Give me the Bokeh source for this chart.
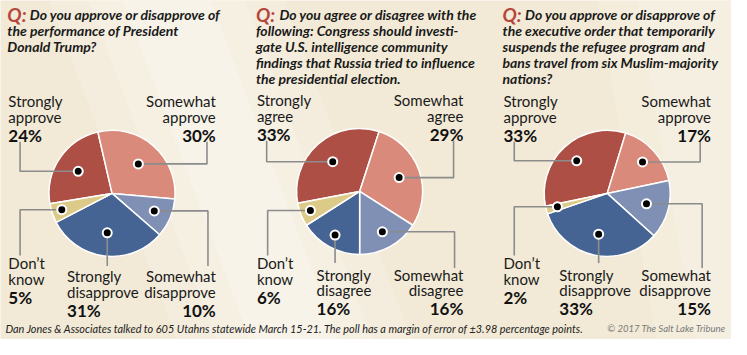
import math
from bokeh.plotting import figure
from bokeh.models import Range1d, ColumnDataSource
from bokeh.core.properties import value
from bokeh.embed import file_html
from bokeh.resources import INLINE

# ---------------- data ----------------
categories = ["Strongly approve", "Somewhat approve", "Somewhat disapprove",
              "Strongly disapprove", "Don't know"]
q1_values = [24, 30, 10, 31, 5]
q2_values = [33, 29, 16, 16, 6]
q3_values = [33, 17, 15, 33, 2]

q1_names = [["Strongly", "approve"], ["Somewhat", "approve"], ["Somewhat", "disapprove"],
            ["Strongly", "disapprove"], ["Don\u2019t", "know"]]
q2_names = [["Strongly", "agree"], ["Somewhat", "agree"], ["Somewhat", "disagree"],
            ["Strongly", "disagree"], ["Don\u2019t", "know"]]
q3_names = [["Strongly", "approve"], ["Somewhat", "approve"], ["Somewhat", "disapprove"],
            ["Strongly", "disapprove"], ["Don\u2019t", "know"]]

q1_text = ["Do you approve or disapprove of", "the performance of President", "Donald Trump?"]
q2_text = ["Do you agree or disagree with the", "following: Congress should investi-",
           "gate U.S. intelligence community", "findings that Russia tried to influence",
           "the presidential election."]
q3_text = ["Do you approve or disapprove of", "the executive order that temporarily",
           "suspends the refugee program and", "bans travel from six Muslim-majority",
           "nations?"]

footer_text = ("Dan Jones & Associates talked to 605 Utahns statewide March 15-21. "
               "The poll has a margin of error of \u00b13.98 percentage points.")
credit_text = "\u00a9 2017 The Salt Lake Tribune"

colors = ["#ad4f45", "#d98a7b", "#7f90b4", "#456493", "#dccb88"]

# ---------------- layout (pixel coords, y down) ----------------
W, H = 747, 355
def Y(py):
    return H - py

TITLE_FONT = "Lato"
REG = "Lato"

panels = [
    dict(values=q1_values, names=q1_names, text=q1_text, qx=7, tx=30, lx=7,
         cx=114, cy=202, start=-99.4,
         frac=[0.63, 0.62, 0.71, 0.63, 0.82],
         labels=[(8, "left", 105), (220, "right", 105), (220, "right", 289),
                 (68, "left", 289), (8, "left", 275)],
         leaders=[(20, 148), (211, 148), (212, 278), (None, 278), (20, 267)]),
    dict(values=q2_values, names=q2_names, text=q2_text, qx=261, tx=285, lx=261,
         cx=367, cy=200, start=-100.8,
         frac=[0.63, 0.65, 0.73, 0.79, 0.82],
         labels=[(262, "left", 104), (473, "right", 104), (473, "right", 287),
                 (323, "left", 287), (262, "left", 275)],
         leaders=[(272, 147), (463, 147), (464, 280), (None, 275), (273, 267)]),
    dict(values=q3_values, names=q3_names, text=q3_text, qx=513, tx=536, lx=513,
         cx=620, cy=202, start=-101.8,
         frac=[0.70, 0.74, 0.63, 0.66, 0.80],
         labels=[(514, "left", 105), (726, "right", 105), (726, "right", 287),
                 (571, "left", 287), (514, "left", 275)],
         leaders=[(525, 148), (715, 148), (717, 280), (None, 275), (525, 267)]),
]

R = 66  # pie radius in layout pixels

p = figure(width=731, height=339, x_range=Range1d(0, W), y_range=Range1d(0, H),
           output_backend="svg", toolbar_location=None, min_border=0,
           x_axis_type=None, y_axis_type=None)
p.grid.visible = False
p.outline_line_color = None
p.background_fill_color = "#f2ead6"
p.border_fill_color = "#f2ead6"

# soft lighter diagonal bands
for a, w in [(0.18, 120), (0.2, 80), (0.2, 45)]:
    c0, c1 = 170, 300
    p.patch([c0 - w, c0 + w, c1 + w, c1 - w], [H, H, 0, 0], fill_color="white",
            fill_alpha=a, line_color=None)
for a, w in [(0.15, 90), (0.15, 50)]:
    c0, c1 = 700, 760
    p.patch([c0 - w, c0 + w, c1 + w, c1 - w], [H, H, 0, 0], fill_color="white",
            fill_alpha=a, line_color=None)

scale = 339 / 355

for pn in panels:
    vals = pn["values"]
    total = sum(vals)
    th = [pn["start"]]
    for v in vals:
        th.append(th[-1] + 360.0 * v / total)
    starts = [math.radians(90 - th[i + 1]) for i in range(len(vals))]
    ends = [math.radians(90 - th[i]) for i in range(len(vals))]
    src = ColumnDataSource(dict(x=[pn["cx"]] * len(vals), y=[Y(pn["cy"])] * len(vals),
                                s=starts, e=ends, c=colors))
    p.wedge(x="x", y="y", radius=R * scale, radius_units="screen", start_angle="s",
            end_angle="e", fill_color="c", line_color="white", line_width=1.5, source=src)

    # dots and leaders
    dx, dy = [], []
    for i in range(len(vals)):
        m = math.radians((th[i] + th[i + 1]) / 2)
        f = pn["frac"][i]
        px = pn["cx"] + f * R * math.sin(m)
        py = pn["cy"] - f * R * math.cos(m)
        dx.append(px)
        dy.append(py)
        cxr, endy = pn["leaders"][i]
        if cxr is None:
            xs, ys = [px, px], [Y(py), Y(endy)]
        else:
            xs, ys = [px, cxr, cxr], [Y(py), Y(py), Y(endy)]
        p.line(xs, ys, line_color="#8c8c8c", line_width=1.6)
    p.scatter([x for x in dx], [Y(y) for y in dy], size=9, fill_color="black",
              line_color="white", line_width=2)

    # labels
    for i in range(len(vals)):
        lx, al, ly = pn["labels"][i]
        nm = pn["names"][i]
        p.text([lx, lx], [Y(ly), Y(ly + 16.5)], text=nm, text_align=al,
               text_baseline="middle", text_font=value(REG), text_font_size="15px",
               text_color="#1a1a1a")
        p.text([lx], [Y(ly + 36)], text=["%d%%" % vals[i]], text_align=al,
               text_baseline="middle", text_font=value(REG), text_font_style="bold",
               text_font_size="17px", text_color="#111111")

    # question
    p.text([pn["qx"]], [Y(15)], text=["Q:"], text_baseline="middle", text_font=value(TITLE_FONT),
           text_font_style="bold italic", text_font_size="19px", text_color="#b5463b")
    xs = [pn["tx"]] + [pn["lx"]] * (len(pn["text"]) - 1)
    ys = [Y(15 + 16.6 * k) for k in range(len(pn["text"]))]
    p.text(xs, ys, text=pn["text"], text_baseline="middle", text_font=value(TITLE_FONT),
           text_font_style="bold italic", text_font_size="14px", text_color="#1a1a1a")

p.text([5], [Y(343)], text=[footer_text], text_baseline="middle", text_font=value(REG),
       text_font_style="italic", text_font_size="10.9px", text_color="#222222")
p.text([741], [Y(343)], text=[credit_text], text_align="right", text_baseline="middle",
       text_font=value(REG), text_font_style="italic", text_font_size="9.5px",
       text_color="#7a7a7a")

open("out.html", "w").write(file_html(p, INLINE))
